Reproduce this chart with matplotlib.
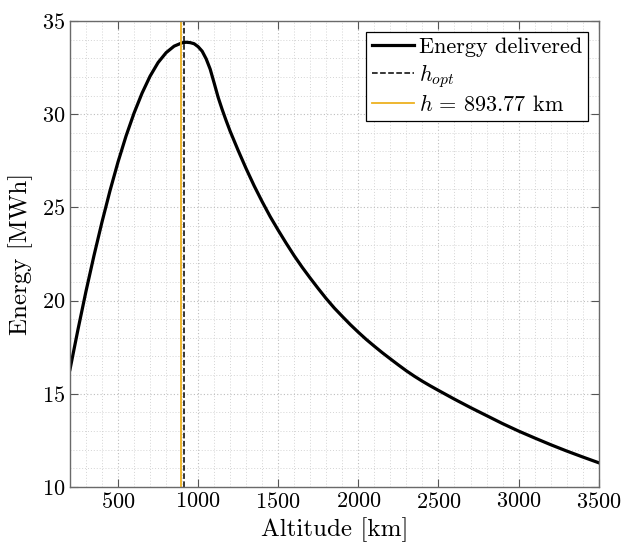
import numpy as np
import matplotlib
matplotlib.use("Agg")
import matplotlib.pyplot as plt

# altitude [km] vs energy delivered [MWh]
altitude = [200, 250, 300, 350, 400, 450, 500, 550, 600, 650, 700, 750, 800,
            850, 900, 925, 950, 975, 1000, 1025, 1050, 1075, 1100, 1125,
            1150, 1175, 1200, 1250, 1300, 1350, 1400, 1450, 1500, 1550,
            1600, 1650, 1700, 1750, 1800, 1850, 1900, 1950, 2000, 2050,
            2100, 2150, 2200, 2250, 2300, 2350, 2400, 2450, 2500, 2600,
            2700, 2800, 2900, 3000, 3100, 3200, 3300, 3400, 3500]
energy = [16.3, 18.45, 20.5, 22.42, 24.22, 25.9, 27.44, 28.83, 30.06, 31.13,
          32.04, 32.77, 33.3, 33.65, 33.83, 33.86, 33.84, 33.78, 33.62, 33.38,
          32.97, 32.42, 31.67, 30.9, 30.25, 29.65, 29.08, 28.05, 27.07,
          26.15, 25.3, 24.5, 23.77, 23.07, 22.4, 21.78, 21.2, 20.64, 20.1,
          19.6, 19.15, 18.71, 18.3, 17.91, 17.55, 17.2, 16.87, 16.545,
          16.23, 15.94, 15.67, 15.42, 15.18, 14.71, 14.26, 13.83, 13.4,
          13.0, 12.63, 12.27, 11.93, 11.61, 11.3]
h_opt = 910
h_sel = 893.77

plt.rcParams['font.family'] = 'serif'
plt.rcParams['font.serif'] = ['cmr10', 'DejaVu Serif']
plt.rcParams['mathtext.fontset'] = 'cm'
plt.rcParams['axes.formatter.use_mathtext'] = True

fig = plt.figure(figsize=(6.22, 5.51), dpi=100)
ax = fig.add_axes([0.1125, 0.1162, 0.85, 0.8457])

ax.plot(altitude, energy, color='black', lw=2.3, label='Energy delivered')
ax.axvline(h_opt, color='black', ls='--', lw=1.1, label=r'$h_{opt}$')
ax.axvline(h_sel, color='#EDB120', lw=1.3,
           label=r'$h\,=\,893.77$ km')

ax.set_xlim(200, 3500)
ax.set_ylim(10, 35)
ax.set_xticks(np.arange(500, 3501, 500))
ax.set_yticks(np.arange(10, 36, 5))
ax.set_xticks(np.arange(200, 3501, 100), minor=True)
ax.set_yticks(np.arange(10, 36, 1), minor=True)

ax.grid(which='minor', ls=(0, (1, 2)), color='#d4d4d4', lw=0.7)
ax.grid(which='major', ls=(0, (1, 2)), color='#bdbdbd', lw=0.8)
ax.set_axisbelow(True)
ax.tick_params(which='major', direction='in', top=True, right=True,
               length=6, width=0.8, color='#555555', labelsize=16)
ax.tick_params(which='minor', length=0)
for s in ax.spines.values():
    s.set_color('#6a6a6a')
    s.set_linewidth(1.0)

ax.set_xlabel('Altitude [km]', fontsize=18)
ax.set_ylabel('Energy [MWh]', fontsize=18, labelpad=6)

leg = ax.legend(loc='upper right', fontsize=16, fancybox=False,
                edgecolor='black', framealpha=1, handlelength=1.9,
                borderaxespad=0.5, labelspacing=0.2, handletextpad=0.2,
                borderpad=0.25)
leg.get_frame().set_linewidth(0.9)

fig.savefig('out.png', dpi=100)
